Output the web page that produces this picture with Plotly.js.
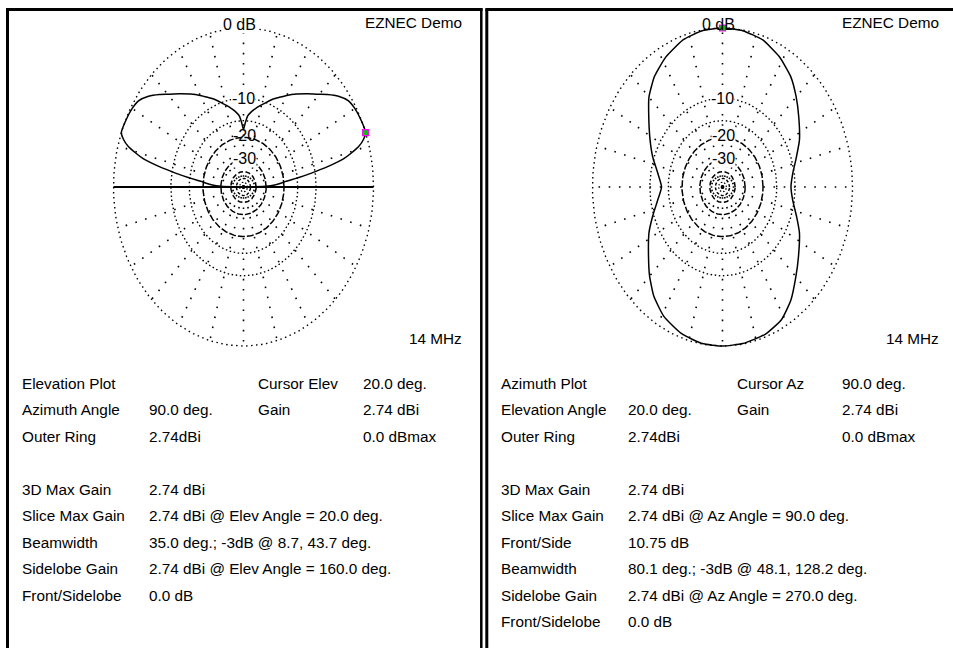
<!DOCTYPE html>
<html><head><meta charset="utf-8">
<script src="https://cdn.plot.ly/plotly-3.0.1.min.js"></script>
<style>html,body{margin:0;padding:0;background:#fff;}#chart{width:953px;height:648px;}</style>
</head><body><div id="chart"></div>
<script>
// ---------- DATA ----------
// Elevation plot (azimuth 90 deg): elevation angle (deg) and gain (dB relative to outer ring)
const elevAngles = [0, 1.5, 3, 5, 6, 7, 8, 9, 10, 11, 12, 13, 14.5, 16, 18, 20, 25, 30, 34, 38, 42, 45, 50, 55, 60, 64, 67.5, 72, 76, 80, 83, 86, 88, 90,
  92, 94, 97, 100, 104, 108, 112.5, 116, 120, 125, 130, 135, 138, 142, 146, 150, 155, 160, 162, 164, 165.5, 167, 168, 169, 170, 171, 172, 173, 174, 175, 177, 178.5, 180];
const elevGain = [-60, -30, -24.5, -21, -19.5, -17, -14.5, -12, -9.8, -7.5, -5.6, -4, -2.6, -1.4, -0.5, 0, -0.05, -0.2, -0.5, -1.3, -2.4, -3.3, -4.6, -5.8, -7, -8, -8.8, -10, -11, -12, -12.8, -13.8, -15.5, -17.5,
  -15.5, -13.8, -12.8, -12, -11, -10, -8.8, -8, -7, -5.8, -4.6, -3.3, -2.4, -1.3, -0.5, -0.2, -0.05, 0, -0.5, -1.4, -2.6, -4, -5.6, -7.5, -9.8, -12, -14.5, -17, -19.5, -21, -24.5, -30, -60];

// Azimuth plot (elevation 20 deg): azimuth angle (deg) and gain (dB relative to outer ring)
const azAngles = [0, 9, 17, 26.5, 37, 45, 53, 62, 71.5, 81, 90, 99, 108, 118, 127, 135, 142, 152, 160.5, 170, 180,
  189.5, 199, 207, 217.5, 225, 232.5, 241, 251, 261, 270, 279, 289.5, 298.5, 306.5, 315, 323, 334, 342, 351.5, 360];
const azGain = [-11.0, -10.35, -9.05, -7.1, -5.3, -3.8, -2.37, -1.26, -0.43, -0.08, 0, -0.09, -0.45, -1.3, -2.39, -3.83, -5.64, -7.9, -9.65, -11.7, -13.0,
  -11.7, -9.68, -7.8, -5.7, -3.98, -2.45, -1.24, -0.45, -0.05, 0, -0.05, -0.3, -0.88, -2.1, -3.87, -5.37, -7.17, -8.8, -10.4, -11.0];

// Cursor positions
const cursorElev = [20], cursorElevGain = [0];
const cursorAz = [90], cursorAzGain = [0];

// Grid: ring levels (dB), labelled rings, spoke angles
const ringLevels = [0, -10, -15, -20, -30, -40, -50, -60];
const labelLevels = [0, -10, -20, -30];
const labelTexts = ['0 dB', '-10', '-20', '-30'];
const spokeAngles = [0, 15, 30, 45, 60, 75, 90, 105, 120, 135, 150, 165, 180, 195, 210, 225, 240, 255, 270, 285, 300, 315, 330, 345];

// Info text
const leftRows = [
  ['Elevation Plot', '', 'Cursor Elev', '20.0 deg.'],
  ['Azimuth Angle', '90.0 deg.', 'Gain', '2.74 dBi'],
  ['Outer Ring', '2.74dBi', '', '0.0 dBmax'],
  null,
  ['3D Max Gain', '2.74 dBi'],
  ['Slice Max Gain', '2.74 dBi @ Elev Angle = 20.0 deg.'],
  ['Beamwidth', '35.0 deg.; -3dB @ 8.7, 43.7 deg.'],
  ['Sidelobe Gain', '2.74 dBi @ Elev Angle = 160.0 deg.'],
  ['Front/Sidelobe', '0.0 dB']
];
const rightRows = [
  ['Azimuth Plot', '', 'Cursor Az', '90.0 deg.'],
  ['Elevation Angle', '20.0 deg.', 'Gain', '2.74 dBi'],
  ['Outer Ring', '2.74dBi', '', '0.0 dBmax'],
  null,
  ['3D Max Gain', '2.74 dBi'],
  ['Slice Max Gain', '2.74 dBi @ Az Angle = 90.0 deg.'],
  ['Front/Side', '10.75 dB'],
  ['Beamwidth', '80.1 deg.; -3dB @ 48.1, 128.2 deg.'],
  ['Sidelobe Gain', '2.74 dBi @ Az Angle = 270.0 deg.'],
  ['Front/Sidelobe', '0.0 dB']
];
const cornerTitle = 'EZNEC Demo';
const freqLabel = '14 MHz';

// ---------- RENDERING ----------
const W = 953, H = 648;
const FONT = 'Liberation Sans, Arial, sans-serif';
const RH = 130, RV = 159, EXT = 1.1;
const centers = [[243.5, 187], [722.5, 187]];
const fx = px => px / W, fy = py => 1 - py / H;

// ARRL log scale: 2 dB per factor 0.89
const rho = dB => Math.pow(0.89, -dB / 2);
function polarXY(angles, gains) {
  const x = [], y = [];
  angles.forEach((a, i) => {
    const r = rho(gains[i]), t = a * Math.PI / 180;
    x.push(r * Math.cos(t)); y.push(r * Math.sin(t));
  });
  return {x, y};
}

const ringStyle = {
  '0': {dash: '1.5px,3.5px', w: 1.4},
  '-10': {dash: '1.5px,2.6px', w: 1.4},
  '-15': {dash: '1.5px,2.6px', w: 1.4},
  '-20': {dash: '7px,2px', w: 1.5},
  '-30': {dash: '6px,2px', w: 1.5},
  '-40': {dash: '5px,2.5px', w: 1.5},
  '-50': {dash: '3px,2px', w: 1.4},
  '-60': {dash: '1.5px,2px', w: 1.2}
};

const traces = [];
const fullCircle = [];
for (let a = 0; a <= 360; a += 2) fullCircle.push(a);

function addGrid(xa, ya, groundSolid) {
  spokeAngles.forEach(a => {
    if (groundSolid && (a === 0 || a === 180)) return;
    const p = polarXY([a, a], [-200, 0]);
    traces.push({x: p.x, y: p.y, xaxis: xa, yaxis: ya, mode: 'lines', hoverinfo: 'skip',
      line: {color: '#000', width: 1.6, dash: '1.6px,8.6px'}});
  });
  ringLevels.forEach(lv => {
    const p = polarXY(fullCircle, fullCircle.map(() => lv));
    const st = ringStyle[String(lv)];
    traces.push({x: p.x, y: p.y, xaxis: xa, yaxis: ya, mode: 'lines', hoverinfo: 'skip',
      line: {color: '#000', width: st.w, dash: st.dash}});
  });
  if (groundSolid) {
    const p = polarXY([180, 0], [0, 0]);
    traces.push({x: p.x, y: p.y, xaxis: xa, yaxis: ya, mode: 'lines', hoverinfo: 'skip',
      line: {color: '#000', width: 2}});
  }
}

addGrid('x', 'y', true);
addGrid('x2', 'y2', false);

const pe = polarXY(elevAngles, elevGain);
traces.push({x: pe.x, y: pe.y, xaxis: 'x', yaxis: 'y', mode: 'lines', hoverinfo: 'skip',
  line: {color: '#000', width: 1.5, shape: 'spline', smoothing: 0.5}});
const pa = polarXY(azAngles, azGain);
traces.push({x: pa.x, y: pa.y, xaxis: 'x2', yaxis: 'y2', mode: 'lines', hoverinfo: 'skip',
  line: {color: '#000', width: 1.5, shape: 'spline', smoothing: 0.5}});

const ce = polarXY(cursorElev, cursorElevGain);
traces.push({x: ce.x, y: ce.y, xaxis: 'x', yaxis: 'y', mode: 'markers', cliponaxis: false, hoverinfo: 'skip',
  marker: {symbol: 'square', size: 6, color: '#00c800', line: {color: '#ff00ff', width: 1.2}}});
const ca = polarXY(cursorAz, cursorAzGain);
traces.push({x: ca.x, y: ca.y, xaxis: 'x2', yaxis: 'y2', mode: 'markers', cliponaxis: false, hoverinfo: 'skip',
  marker: {symbol: 'square', size: 6, color: '#00c800', line: {color: '#ff00ff', width: 1.2}}});

function axisPair(cx, cy) {
  return [
    {domain: [fx(cx - EXT * RH), fx(cx + EXT * RH)], range: [-EXT, EXT], visible: false, fixedrange: true},
    {domain: [fy(cy + EXT * RV), fy(cy - EXT * RV)], range: [-EXT, EXT], visible: false, fixedrange: true}
  ];
}
const [xa1, ya1] = axisPair(...centers[0]);
const [xa2, ya2] = axisPair(...centers[1]);
ya1.anchor = 'x'; xa1.anchor = 'y';
xa2.anchor = 'y2'; ya2.anchor = 'x2';

const annotations = [];
const txtFont = {family: FONT, size: 15.3, color: '#000'};
const lblFont = {family: FONT, size: 16, color: '#000'};

// ring labels
const labelShift = {'0': [-4, 3], '-10': [0, 0], '-20': [1, 2], '-30': [1, 1]};
[['x', 'y', [true, true, false, true]], ['x2', 'y2', [false, true, true, true]]].forEach(([xr, yr, bgs]) => {
  labelLevels.forEach((lv, i) => {
    const sh = labelShift[String(lv)];
    annotations.push({xref: xr, yref: yr, x: 0, y: rho(lv), text: labelTexts[i], showarrow: false,
      xanchor: 'center', yanchor: 'middle', xshift: sh[0], yshift: sh[1], borderpad: 0,
      bgcolor: bgs[i] ? '#fff' : 'rgba(0,0,0,0)', font: lblFont});
  });
});

// corner texts
[0, 477].forEach(off => {
  annotations.push({xref: 'paper', yref: 'paper', x: fx(464 + off), y: fy(22.5), text: cornerTitle,
    showarrow: false, xanchor: 'right', yanchor: 'middle', font: txtFont});
  annotations.push({xref: 'paper', yref: 'paper', x: fx(464 + off), y: fy(338), text: freqLabel,
    showarrow: false, xanchor: 'right', yanchor: 'middle', font: txtFont});
});

// info rows
function addRows(rows, off) {
  const cols = [20.5, 147.8, 257, 362];
  rows.forEach((row, i) => {
    if (!row) return;
    const yy = 383.3 + 26.5 * i;
    row.forEach((t, j) => {
      if (!t) return;
      annotations.push({xref: 'paper', yref: 'paper', x: fx(cols[j] + off), y: fy(yy), text: t,
        showarrow: false, xanchor: 'left', yanchor: 'middle', font: txtFont, borderpad: 0});
    });
  });
}
addRows(leftRows, 0);
addRows(rightRows, 479.3);

// panel borders
const shapes = [];
const L = (x0, y0, x1, y1, w) => shapes.push({type: 'line', xref: 'paper', yref: 'paper',
  x0: fx(x0), y0: fy(y0), x1: fx(x1), y1: fy(y1), line: {color: '#000', width: w}});
L(7.5, 9.5, 7.5, 660, 3);
L(6, 9.5, 482.5, 9.5, 3);
L(481.3, 8, 481.3, 660, 2.5);
L(486.8, 9.5, 486.8, 660, 3);
L(485.3, 9.5, 960, 9.5, 3);

const layout = {
  width: W, height: H, margin: {l: 0, r: 0, t: 0, b: 0},
  paper_bgcolor: '#fff', plot_bgcolor: 'rgba(0,0,0,0)', showlegend: false,
  xaxis: xa1, yaxis: ya1, xaxis2: xa2, yaxis2: ya2,
  annotations, shapes, font: {family: FONT}
};
Plotly.newPlot('chart', traces, layout, {staticPlot: true, displayModeBar: false});
</script></body></html>
